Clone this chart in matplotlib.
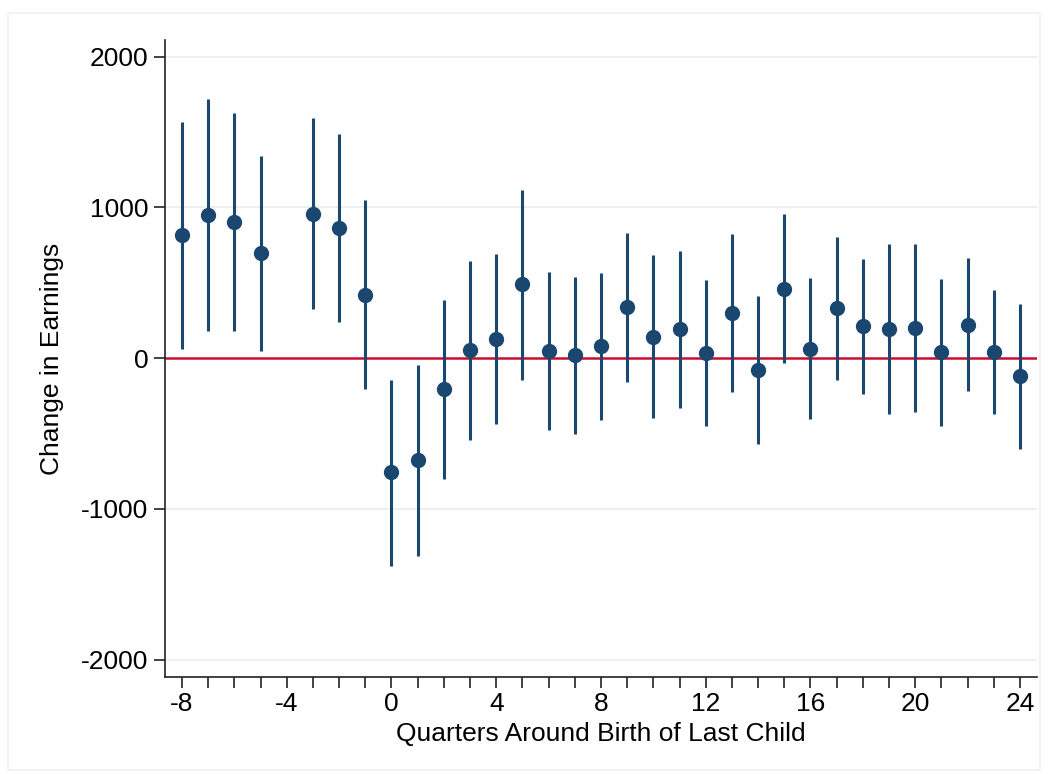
import matplotlib
matplotlib.use("Agg")
import matplotlib.pyplot as plt
from matplotlib.patches import Rectangle

plt.rcParams['font.family'] = ['Liberation Sans', 'DejaVu Sans']

# event-study estimates (quarter -4 is the omitted reference)
quarters = [-8, -7, -6, -5, -3, -2, -1, 0, 1, 2, 3, 4, 5, 6, 7, 8, 9, 10,
            11, 12, 13, 14, 15, 16, 17, 18, 19, 20, 21, 22, 23, 24]
coef = [820, 950, 905, 697, 958, 862, 418, -756, -677, -206, 53, 126, 489, 46,
        20, 80, 338, 139, 192, 33, 298, -80, 458, 60, 332, 212, 194, 199, 40,
        219, 40, -119]
ci_hi = [1566, 1718, 1625, 1340, 1592, 1486, 1048, -146, -46, 385, 643, 690,
         1114, 570, 537, 564, 829, 683, 710, 517, 822, 411, 955, 530, 803, 657,
         756, 756, 524, 663, 451, 358]
ci_lo = [60, 180, 180, 46, 325, 239, -206, -1380, -1313, -803, -544, -438,
         -146, -478, -504, -411, -159, -398, -332, -451, -226, -570, -33, -405,
         -146, -239, -371, -358, -451, -219, -371, -604]

xticks = [-8, -4, 0, 4, 8, 12, 16, 20, 24]
yticks = [-2000, -1000, 0, 1000, 2000]

navy = '#1a476f'

fig = plt.figure(figsize=(10.48, 7.74), dpi=100)
fig.patches.append(Rectangle((0.008, 0.005), 0.984, 0.978, transform=fig.transFigure,
                             fill=False, edgecolor='#eef2f4', linewidth=1.2))
ax = fig.add_axes([0.1574, 0.1253, 0.8321, 0.8227])

for y in yticks:
    if y != 0:
        ax.axhline(y, color='#e8f0f2', linewidth=1.3, zorder=0)
ax.axhline(0, color='#c8102e', linewidth=1.8, zorder=1)

ax.vlines(quarters, ci_lo, ci_hi, color=navy, linewidth=2.2, zorder=2)
ax.plot(quarters, coef, 'o', color=navy, markersize=10, zorder=3)

ax.set_xlim(-8.65, 24.65)
ax.set_ylim(-2116, 2109)
ax.set_xticks(xticks)
ax.set_xticks(range(-8, 25), minor=True)
ax.set_yticks(yticks)
ax.set_yticklabels([str(y) for y in yticks])
ax.set_xticklabels([str(x) for x in xticks])

for s in ['top', 'right']:
    ax.spines[s].set_visible(False)
for s in ['left', 'bottom']:
    ax.spines[s].set_linewidth(1.2)
    ax.spines[s].set_color('#222222')

ax.tick_params(axis='both', which='major', labelsize=19, length=8, width=1.2,
               color='#222222')
ax.tick_params(axis='x', which='minor', length=8, width=1.2, color='#222222')
ax.tick_params(axis='y', pad=4)
ax.tick_params(axis='x', pad=3)

ax.set_xlabel('Quarters Around Birth of Last Child', fontsize=19, labelpad=4)
ax.set_ylabel('Change in Earnings', fontsize=19, labelpad=12)

fig.savefig('out.png', dpi=100)
